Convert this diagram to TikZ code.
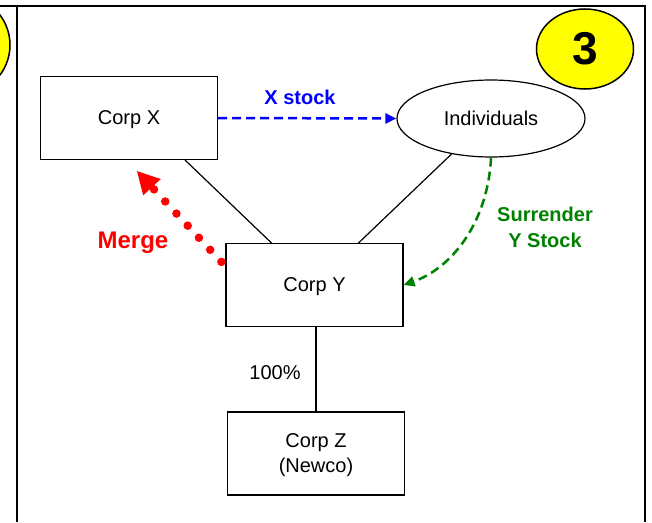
\documentclass[tikz,border=0pt]{standalone}
\usepackage{fontspec}
\setmainfont{Liberation Sans}
\usetikzlibrary{arrows.meta}
\usetikzlibrary{calc}
\usetikzlibrary{shapes.geometric}
\definecolor{stockblue}{RGB}{0,0,255}
\definecolor{stockgreen}{RGB}{0,128,0}
\definecolor{mergered}{RGB}{255,0,0}
\definecolor{badgeyellow}{RGB}{255,255,0}
\tikzset{
    corp box/.style={
        draw,
        line width=1.2pt,
        minimum width=177pt,
        minimum height=83pt,
        align=center,
        text depth=0pt,
        font=\fontsize{20}{25}\selectfont,
    },
    holder/.style={
        draw,
        ellipse,
        line width=1.2pt,
        minimum width=188pt,
        minimum height=77pt,
        inner sep=0,
        font=\fontsize{20}{25}\selectfont,
    },
    own link/.style={
        line width=1.2pt,
    },
    stock arrow/.style={
        line width=2.5pt,
        dash pattern=on 9pt off 5pt,
        -{Triangle[length=11pt,width=10pt]},
    },
    merge arrow/.style={
        color=mergered,
        line width=8.5pt,
        line cap=round,
        dash pattern=on 0pt off 16.5pt,
        -{Triangle[length=22pt,width=24pt,line width=0pt]},
    },
    step badge/.style={
        draw,
        ellipse,
        fill=badgeyellow,
        line width=1.5pt,
        minimum width=97pt,
        minimum height=80pt,
        inner sep=0,
        font=\fontsize{46}{46}\selectfont\bfseries,
    },
    arrow label/.style={
        align=center,
        font=\fontsize{20}{26}\selectfont\bfseries,
    },
}

\begin{document}
\begin{tikzpicture}[x=1pt,y=-1pt]

    \useasboundingbox (0,0) rectangle (652,522);

    % panel frame and the badges
    \draw[line width=1.5pt, fill=badgeyellow] (-40,45) circle (50pt);
    \draw[line width=2pt] (0,6) -- (645,6) -- (645,522);
    \draw[line width=2pt] (17,6) -- (17,522);
    \node[step badge] (badge) at (585,49) {3};

    % entities
    \node[corp box] (cx) at (129,118) {Corp X};
    \node[holder] (ind) at (491,118.5) {Individuals};
    \node[corp box] (cy) at (314.5,285) {Corp Y};
    \node[corp box] (cz) at (316,453.5) {Corp Z\\(Newco)};

    % ownership
    \draw[own link] ([xshift=-33pt]cx.south east) -- ([xshift=46pt]cy.north west);
    \draw[own link] (ind.-138) -- ([xshift=-45pt]cy.north east);
    \draw[own link] (cz.north) -- (cz.north |- cy.south);
    \node[font=\fontsize{20}{25}\selectfont] (pct) at (275,373) {100\%};

    % transfers
    \draw[stock arrow, stockblue] (cx.east) -- (ind.west);
    \node[arrow label, text=stockblue] (xs) at (300,97) {X stock};

    \draw[stock arrow, stockgreen] (ind.south) .. controls (488,222) and (452,268) .. (cy.east);
    \node[arrow label, text=stockgreen] (sur) at (545,227) {Surrender\\Y Stock};

    \draw[merge arrow] ($(cy.north west)+(-4,19)$) -- ($(cx.south)+(8,11)$);
    \node[arrow label, text=mergered, font=\fontsize{24}{28}\selectfont\bfseries] (mg) at (133,243) {Merge};

\end{tikzpicture}
\end{document}
